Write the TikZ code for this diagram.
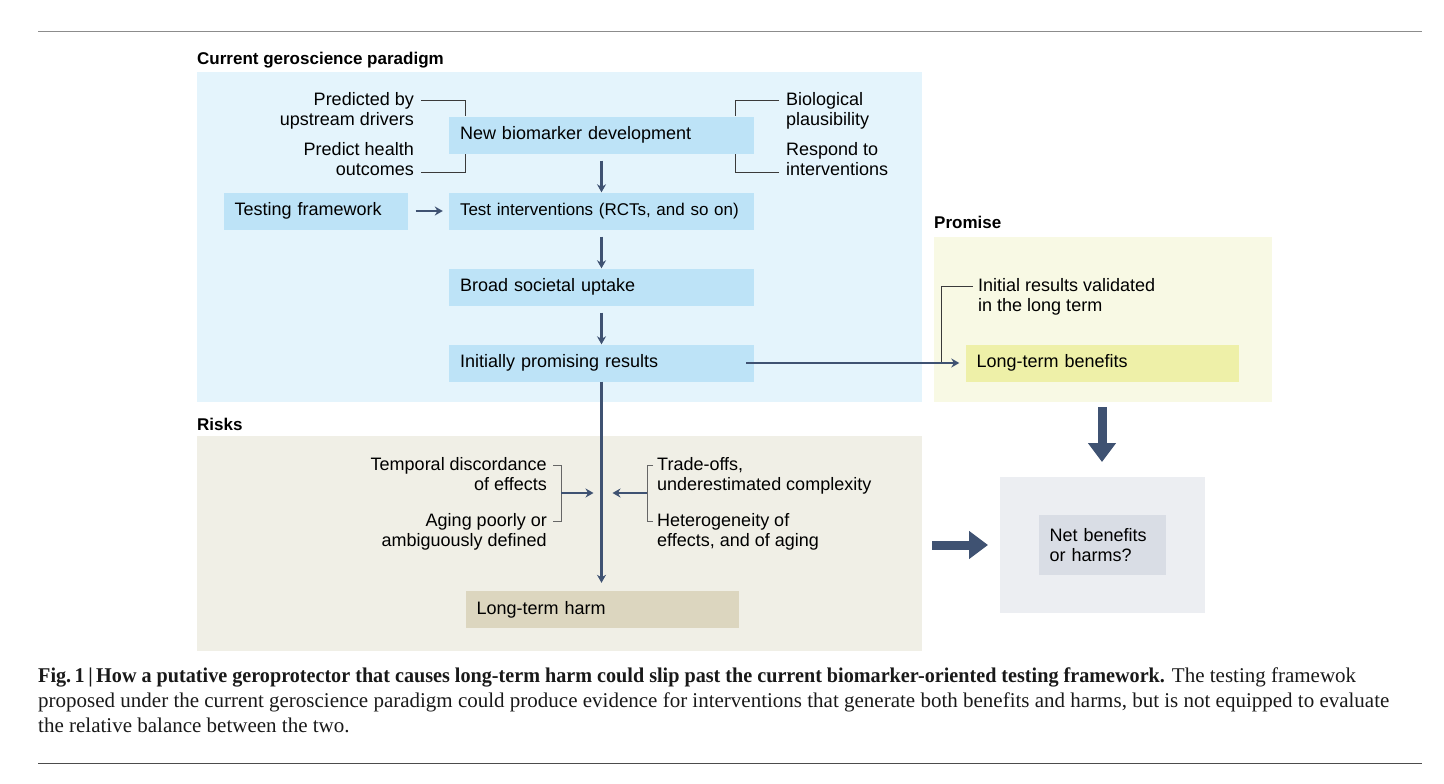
\documentclass[tikz,border=0pt]{standalone}
\usepackage{fontspec}
\setmainfont{Liberation Sans}
\newfontfamily\capfont[FakeStretch=1.0, BoldFeatures={FakeStretch=0.96}]{Liberation Serif}
\usetikzlibrary{arrows.meta,positioning}

\definecolor{curbg}{HTML}{E4F4FC}
\definecolor{curbox}{HTML}{BDE3F7}
\definecolor{probg}{HTML}{F8F9E4}
\definecolor{probox}{HTML}{EEF0A8}
\definecolor{riskbg}{HTML}{F0EFE6}
\definecolor{riskbox}{HTML}{DCD6BF}
\definecolor{netbg}{HTML}{ECEEF2}
\definecolor{netbox}{HTML}{D9DDE5}
\definecolor{arrowc}{HTML}{3F5272}
\definecolor{tickc}{HTML}{3A3A3A}

\tikzset{
  panel/.style={inner sep=0pt, anchor=north west},
  box/.style={minimum height=37pt, inner xsep=11pt, inner ysep=0pt, align=left,
    font=\fontsize{18}{20}\selectfont},
  note/.style={inner sep=0pt, font=\fontsize{18}{20}\selectfont},
  heading/.style={inner sep=0pt, anchor=base west, font=\fontsize{17}{18}\selectfont\bfseries},
  tick/.style={draw=tickc, line width=0.8pt},
  arr/.style={draw=arrowc, line width=2.2pt, -{Stealth[length=8pt,width=9pt]}},
  bigarr/.style={draw=arrowc, line width=9pt, -{Triangle[length=19pt,width=27pt]}},
  rule/.style={draw=#1, line width=0.8pt},
  capline/.style={inner sep=0pt, anchor=base west, text=black!90,
    font=\capfont\fontsize{21}{25}\selectfont}
}

\begin{document}
\begin{tikzpicture}[x=1pt, y=-1pt]
  \useasboundingbox (0,0) rectangle (1444,784);

  % rules
  \draw[rule=black!45] (38,31) -- (1422,31);
  \draw[rule=black!70] (38,763) -- (1422,763);

  % panels
  \node[panel, fill=curbg, minimum width=725pt, minimum height=330pt] (cur) at (197,72) {};
  \node[panel, fill=probg, minimum width=338pt, minimum height=165pt] (pro) at (934,237) {};
  \node[panel, fill=riskbg, minimum width=725pt, minimum height=215pt] (risk) at (197,436) {};
  \node[panel, fill=netbg, minimum width=205pt, minimum height=136pt] (netp) at (1000,477) {};

  \node[heading] (curt) at (197,65) {Current geroscience paradigm};
  \node[heading] (prot) at (934,228) {Promise};
  \node[heading] (riskt) at (197,430) {Risks};

  % boxes
  \node[box, fill=curbox, text width=283pt] (bio) at (601.5,135) {New biomarker development};
  \node[box, fill=curbox, text width=283pt, font=\fontsize{17}{20}\selectfont] (test) at (601.5,211) {Test interventions (RCTs, and so on)};
  \node[box, fill=curbox, text width=162pt] (tfw) at (315.5,211) {Testing framework};
  \node[box, fill=curbox, text width=283pt] (uptake) at (601.5,287) {Broad societal uptake};
  \node[box, fill=curbox, text width=283pt] (initial) at (601.5,363) {Initially promising results};
  \node[box, fill=probox, text width=251pt] (benefit) at (1102,363) {Long-term benefits};
  \node[box, fill=riskbox, text width=251pt] (harm) at (602,609.5) {Long-term harm};
  \node[box, fill=netbox, text width=105pt, minimum height=60pt] (net) at (1102,545) {Net benefits\\or harms?};

  % criteria
  \node[note, anchor=north east, align=right] (pred) at (414,92) {Predicted by\\upstream drivers};
  \node[note, anchor=south east, align=right] (hlth) at (414,176) {Predict health\\outcomes};
  \node[note, anchor=north west, align=left] (biol) at (786,92) {Biological\\plausibility};
  \node[note, anchor=south west, align=left] (resp) at (786,176) {Respond to\\interventions};
  \node[note, anchor=north west, align=left] (valid) at (978,278) {Initial results validated\\in the long term};

  \node[note, anchor=north east, align=right] (temp) at (547,457) {Temporal discordance\\of effects};
  \node[note, anchor=north east, align=right] (aging) at (547,513) {Aging poorly or\\ambiguously defined};
  \node[note, anchor=north west, align=left] (trade) at (657,457) {Trade-offs,\\underestimated complexity};
  \node[note, anchor=north west, align=left] (hetero) at (657,513) {Heterogeneity of\\effects, and of aging};

  % brackets
  \draw[tick] ([xshift=7pt,yshift=-8pt]pred.north east) -| ([xshift=17pt]bio.north west);
  \draw[tick] ([xshift=7pt,yshift=4pt]hlth.south east) -| ([xshift=17pt]bio.south west);
  \draw[tick] ([xshift=-7pt,yshift=-8pt]biol.north west) -| ([xshift=-19pt]bio.north east);
  \draw[tick] ([xshift=-7pt,yshift=4pt]resp.south west) -| ([xshift=-19pt]bio.south east);
  \draw[tick] ([xshift=-5pt,yshift=-8pt]valid.north west) -| ([xshift=-24pt]benefit.west);

  \draw[tick, draw=black!60] ([xshift=6pt,yshift=-8pt]temp.north east) -- ++(8,0)
    |- ([xshift=6pt,yshift=-8pt]aging.north east);
  \draw[tick, draw=black!60] ([xshift=-4pt,yshift=-8pt]trade.north west) -- ++(-6,0)
    |- ([xshift=-4pt,yshift=-8pt]hetero.north west);
  \path ([xshift=14pt,yshift=-8pt]temp.north east) -- ([xshift=14pt,yshift=-8pt]aging.north east)
    coordinate[midway] (lmid);
  \path ([xshift=-10pt,yshift=-8pt]trade.north west) -- ([xshift=-10pt,yshift=-8pt]hetero.north west)
    coordinate[midway] (rmid);

  % arrows
  \draw[arr] ([yshift=-7pt]bio.south) -- (test.north);
  \draw[arr] ([yshift=-7pt]test.south) -- (uptake.north);
  \draw[arr] ([yshift=-7pt]uptake.south) -- (initial.north);
  \draw[arr] ([xshift=8pt]tfw.east) -- ([xshift=-6pt]test.west);
  \draw[arr, line width=2.4pt] ([xshift=-8pt]initial.east) -- ([xshift=-6pt]benefit.west);
  \draw[arr, line width=2.4pt] (initial.south) -- ([yshift=8pt]harm.north -| initial.south);
  \draw[arr, line width=2.4pt] (lmid) -- ([xshift=-8pt]lmid -| initial.south);
  \draw[arr, line width=2.4pt] (rmid) -- ([xshift=11pt]rmid -| initial.south);

  \draw[bigarr] ([yshift=-5pt]pro.south -| benefit.south) -- ([yshift=15pt]netp.north -| benefit.south);
  \draw[bigarr] ([xshift=10pt]risk.east |- net.west) -- ([xshift=-12pt]netp.west |- net.west);

  % caption
  \node[capline] (cap1) at (38,682) {{\bfseries Fig.\,1\,|\,How a putative geroprotector that causes long-term harm could slip past the current biomarker-oriented testing framework.} The testing framewok};
  \node[capline] (cap2) at (38,707) {proposed under the current geroscience paradigm could produce evidence for interventions that generate both benefits and harms, but is not equipped to evaluate};
  \node[capline] (cap3) at (38,732) {the relative balance between the two.};
\end{tikzpicture}
\end{document}
